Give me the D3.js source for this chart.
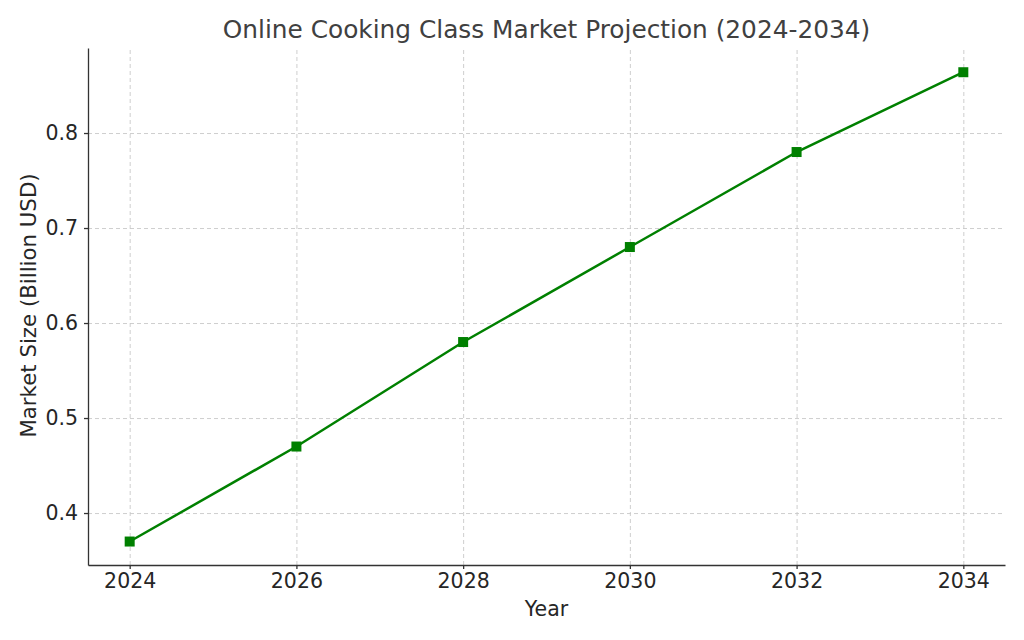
<!DOCTYPE html>
<html lang="en">
<head>
  <meta charset="UTF-8">
  <title>Online Cooking Class Market Projection</title>
  <script src="https://d3js.org/d3.v7.min.js"></script>
  <style>
    body { margin: 0; background: #fff; font-family: "DejaVu Sans", sans-serif; }
    .axis path, .axis line { stroke: #333; stroke-width: 1.3px; }
    .grid line { stroke: #c8c8c8; stroke-dasharray: 4,3; stroke-width: 0.9px; }
    .grid path { display: none; }
  </style>
</head>
<body>
  <svg width="1024" height="640"></svg>
  <script>
    // data
    const years = [2024, 2026, 2028, 2030, 2032, 2034];
    const marketSize = [0.37, 0.47, 0.58, 0.68, 0.78, 0.864];
    const yTicks = [0.4, 0.5, 0.6, 0.7, 0.8];

    const svg = d3.select("svg"),
          margin = { top: 48, right: 19, bottom: 75, left: 88 },
          width = 1024 - margin.left - margin.right,
          height = 640 - margin.top - margin.bottom;

    const g = svg.append("g").attr("transform", `translate(${margin.left},${margin.top})`);

    const x = d3.scaleLinear().domain([2023.5, 2034.5]).range([0, width]);
    const y = d3.scaleLinear().domain([0.3453, 0.8895]).range([height, 0]);

    // grid
    g.append("g").attr("class", "grid")
      .attr("transform", `translate(0,${height})`)
      .call(d3.axisBottom(x).tickValues(years).tickSize(-height).tickFormat(""));
    g.append("g").attr("class", "grid")
      .call(d3.axisLeft(y).tickValues(yTicks).tickSize(-width).tickFormat(""));

    // axes
    const xAxis = g.append("g").attr("class", "axis")
      .attr("transform", `translate(0,${height})`)
      .call(d3.axisBottom(x).tickValues(years).tickFormat(d3.format("d")).tickSize(4).tickSizeOuter(0).tickPadding(4));
    const yAxis = g.append("g").attr("class", "axis")
      .call(d3.axisLeft(y).tickValues(yTicks).tickFormat(d3.format(".1f")).tickSize(4).tickSizeOuter(0).tickPadding(6));

    [xAxis, yAxis].forEach(a => a.selectAll("text")
      .style("font-family", "'DejaVu Sans', sans-serif")
      .style("font-size", "20.5px")
      .style("fill", "#262626"));

    const data = years.map((yr, i) => ({ year: yr, value: marketSize[i] }));

    g.append("path")
      .datum(data)
      .attr("fill", "none")
      .attr("stroke", "#008000")
      .attr("stroke-width", 2.5)
      .attr("d", d3.line().x(d => x(d.year)).y(d => y(d.value)));

    g.selectAll(".marker")
      .data(data)
      .enter().append("rect")
      .attr("class", "marker")
      .attr("x", d => x(d.year) - 5)
      .attr("y", d => y(d.value) - 5)
      .attr("width", 10)
      .attr("height", 10)
      .attr("fill", "#008000");

    // titles
    svg.append("text")
      .attr("x", margin.left + width / 2)
      .attr("y", 38)
      .attr("text-anchor", "middle")
      .style("font-size", "24.8px")
      .style("fill", "#404040")
      .text("Online Cooking Class Market Projection (2024-2034)");

    svg.append("text")
      .attr("x", margin.left + width / 2)
      .attr("y", 616)
      .attr("text-anchor", "middle")
      .style("font-size", "20.5px")
      .style("fill", "#262626")
      .text("Year");

    svg.append("text")
      .attr("transform", `translate(36,${margin.top + height / 2 - 1}) rotate(-90)`)
      .attr("text-anchor", "middle")
      .style("font-size", "21.3px")
      .style("fill", "#262626")
      .text("Market Size (Billion USD)");
  </script>
</body>
</html>
